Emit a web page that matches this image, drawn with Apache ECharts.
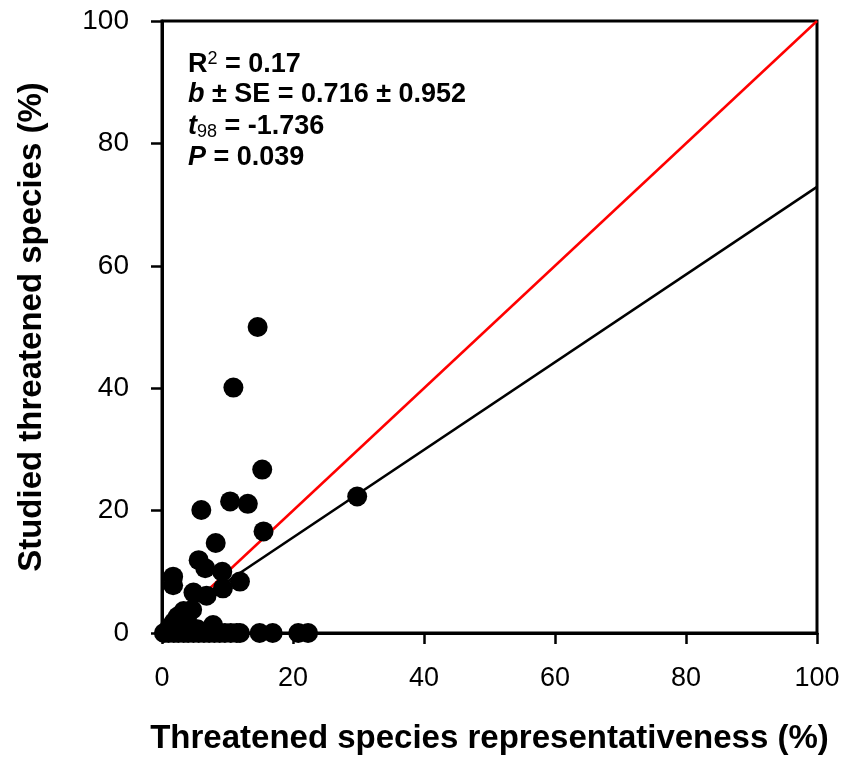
<!DOCTYPE html>
<html>
<head>
<meta charset="utf-8">
<script src="https://cdn.jsdelivr.net/npm/echarts@6/dist/echarts.min.js"></script>
<style>
    html, body { margin: 0; padding: 0; background: #fff; }
    #chart { width: 845px; height: 758px; }
</style>
</head>
<body>
<div id="chart"></div>
<script>
    "use strict";
    // points (x = representativeness %, y = studied %)
    var pointX = [14.6, 10.9, 15.3, 29.8, 10.4, 13.1, 6.0, 15.5, 8.2, 5.6, 6.6, 9.2, 1.7, 1.7, 11.9, 9.3, 4.8, 6.8,
        3.3, 4.6, 2.4, 3.8, 1.8, 1.2, 2.6, 4.2, 7.8, 5.4,
        0.3, 1.0, 1.8, 2.5, 3.3, 4.0, 4.8, 5.6, 6.4, 7.2, 8.0, 8.8, 9.6, 10.5, 11.4, 11.9, 14.9, 16.9, 20.8, 22.3];
    var pointY = [50.0, 40.1, 26.7, 22.3, 21.5, 21.1, 20.1, 16.6, 14.7, 11.9, 10.6, 10.0, 9.2, 7.8, 8.4, 7.3, 6.6, 6.1,
        3.6, 3.8, 2.7, 2.3, 1.8, 1.0, 1.2, 1.0, 1.3, 0.6,
        0, 0, 0, 0, 0, 0, 0, 0, 0, 0, 0, 0, 0, 0, 0, 0, 0, 0, 0, 0];
    // 1:1 line and fitted regression line
    var oneToOneX = [0, 100];
    var oneToOneY = [0, 100];
    var fitX = [1, 100];
    var fitY = [2.0, 72.9];
    var xTicks = [0, 20, 40, 60, 80, 100];
    var yTicks = [0, 20, 40, 60, 80, 100];

    var zip = function (xs, ys) {
        return xs.map(function (v, i) { return [v, ys[i]]; });
    };

    var font = 'Liberation Sans, Arial, sans-serif';
    var statStyle = {
        b: { fontFamily: font, fontWeight: 'bold', fontSize: 27, lineHeight: 30, color: '#000' },
        i: { fontFamily: font, fontWeight: 'bold', fontStyle: 'italic', fontSize: 27, lineHeight: 30, color: '#000' },
        sup: { fontFamily: font, fontSize: 18, lineHeight: 18, color: '#000', verticalAlign: 'top' },
        sub: { fontFamily: font, fontSize: 18, lineHeight: 14, color: '#000', verticalAlign: 'bottom' }
    };
    var statLines = [
        '{b|R}{sup|2}{b| = 0.17}',
        '{i|b}{b| ± SE = 0.716 ± 0.952}',
        '{i|t}{sub|98}{b| = -1.736}',
        '{i|P}{b| = 0.039}'
    ];

    var chart = echarts.init(document.getElementById('chart'));
    var option = {
        animation: false,
        backgroundColor: '#fff',
        grid: {
            left: 162, right: 28, top: 21, bottom: 125,
            outerBoundsMode: 'none',
            show: true, borderColor: '#000', borderWidth: 3
        },
        xAxis: {
            type: 'value', min: 0, max: 100, interval: 20,
            name: 'Threatened species representativeness (%)',
            nameLocation: 'middle', nameGap: 89,
            nameTextStyle: { fontFamily: font, fontWeight: 'bold', fontSize: 33, color: '#000' },
            axisLine: { show: true, onZero: false, lineStyle: { color: '#000', width: 3 } },
            axisTick: { show: true, inside: false, length: 11, lineStyle: { color: '#000', width: 2.5 } },
            axisLabel: {
                fontFamily: font, fontSize: 27, color: '#000', margin: 32,
                formatter: function (v) { return xTicks.indexOf(v) >= 0 ? String(v) : ''; }
            },
            splitLine: { show: false }
        },
        yAxis: {
            type: 'value', min: 0, max: 100, interval: 20,
            name: 'Studied threatened species (%)',
            nameLocation: 'middle', nameGap: 114,
            nameTextStyle: { fontFamily: font, fontWeight: 'bold', fontSize: 33, color: '#000' },
            axisLine: { show: true, onZero: false, lineStyle: { color: '#000', width: 3 } },
            axisTick: { show: true, inside: false, length: 11, lineStyle: { color: '#000', width: 2.5 } },
            axisLabel: {
                fontFamily: font, fontSize: 28, color: '#000', margin: 33,
                formatter: function (v) { return yTicks.indexOf(v) >= 0 ? String(v) : ''; }
            },
            splitLine: { show: false }
        },
        graphic: statLines.map(function (txt, i) {
            return {
                type: 'text', left: 188, top: 50 + i * 31.5, z: 10,
                style: { text: txt, rich: statStyle }
            };
        }),
        series: [
            {
                type: 'line', data: zip(oneToOneX, oneToOneY), symbol: 'none', z: 2,
                lineStyle: { color: '#ff0000', width: 2.5 }
            },
            {
                type: 'line', data: zip(fitX, fitY), symbol: 'none', z: 2,
                lineStyle: { color: '#000', width: 2.5 }
            },
            {
                type: 'scatter', data: zip(pointX, pointY), symbol: 'circle', symbolSize: 20,
                clip: false, z: 3,
                itemStyle: { color: '#000', opacity: 1 }
            }
        ]
    };
    chart.setOption(option);
</script>
</body>
</html>
